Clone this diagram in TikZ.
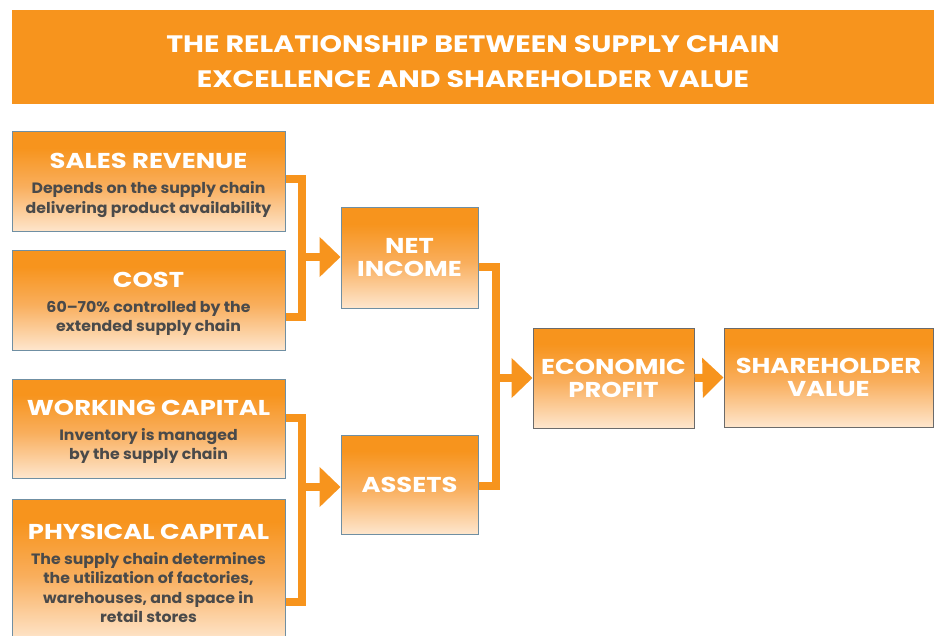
\documentclass[tikz,border=0pt]{standalone}
\usepackage{fontspec}
\setmainfont{Poppins}
\newfontfamily\hdfont{Poppins}[FakeStretch=1.2]
\newfontfamily\sbfont{Poppins}[FakeStretch=1.05]
\usetikzlibrary{arrows.meta}
\definecolor{org}{HTML}{F7941D}
\definecolor{peach}{HTML}{FEE6CD}
\definecolor{midorg}{HTML}{F9AE5C}
\definecolor{bordblue}{HTML}{6F8FA3}
\definecolor{bordgray}{HTML}{6B6B6B}
\definecolor{subgray}{HTML}{4A4A4A}
\pgfdeclareverticalshading{boxshade}{100bp}{color(0bp)=(peach); color(25bp)=(peach); color(48bp)=(midorg); color(67bp)=(org); color(100bp)=(org)}
\tikzset{
  base/.style={draw=bordblue, line width=1pt, shading=boxshade, align=center, inner sep=0pt},
  box/.style={base, text=subgray,
     font=\sbfont\fontsize{15}{19.5}\selectfont\bfseries},
  mbox/.style={base, text=white, font=\hdfont\fontsize{21.5}{23}\selectfont\bfseries},
  graybox/.style={mbox, draw=bordgray},
  conn/.style={draw=org, line width=8pt, line join=miter},
  arr/.style={conn, -{Triangle[width=39pt,length=21pt]}},
}
\newcommand{\hdt}{\hdfont\fontsize{21.5}{23}\selectfont\bfseries\color{white}\rule{0pt}{22pt}}
\begin{document}
\begin{tikzpicture}[x=1pt,y=-1pt]
\useasboundingbox (0,0) rectangle (934,636);
\clip (0,0) rectangle (934,636);
\node[fill=org, minimum width=922pt, minimum height=94pt, inner sep=0pt] (band) at (473,57) {};
\node[align=center, text=white, inner sep=0pt, font=\hdfont\fontsize{23.8}{34.5}\selectfont\bfseries] (title) at (473,61.5)
  {THE RELATIONSHIP BETWEEN SUPPLY CHAIN\\EXCELLENCE AND SHAREHOLDER VALUE};
% left boxes
\node[box, minimum width=273pt, minimum height=100pt] (sr) at (148.5,182)
  {{\hdt SALES REVENUE}\\[5.5pt]Depends on the supply chain\\delivering product availability};
\node[box, minimum width=273pt, minimum height=99pt] (cost) at (148.5,300.5)
  {{\hdt COST}\\[5.5pt]60–70\% controlled by the\\extended supply chain};
\node[box, minimum width=273pt, minimum height=99pt] (wc) at (148.5,428.5)
  {{\hdt WORKING CAPITAL}\\[5.5pt]Inventory is managed\\by the supply chain};
\node[box, minimum width=273pt, minimum height=142pt] (pc) at (148.5,570)
  {{\hdt PHYSICAL CAPITAL}\\[5.5pt]The supply chain determines\\the utilization of factories,\\warehouses, and space in\\retail stores};
% middle boxes
\node[mbox, minimum width=137pt, minimum height=100pt] (ni) at (409.5,258) {NET\\INCOME};
\node[mbox, minimum width=137pt, minimum height=99pt] (as) at (409.5,484.5) {ASSETS};
\node[graybox, minimum width=161pt, minimum height=100pt] (ep) at (613.5,378) {ECONOMIC\\PROFIT};
\node[graybox, minimum width=209pt, minimum height=99pt] (sv) at (828.5,377.5) {SHAREHOLDER\\VALUE};
% junctions
\coordinate (j1) at (302,257);
\coordinate (j2) at (302,487);
\coordinate (j3) at (496,378);
% connectors
\draw[conn] (sr.east |- 0,179) -| (j1) |- (cost.east |- 0,317);
\draw[arr] (j1) -- (ni.west |- j1);
\draw[conn] (wc.east |- 0,418) -| (j2) |- (pc.east |- 0,602);
\draw[arr] (j2) -- (as.west |- j2);
\draw[conn] (ni.east |- 0,267) -| (j3) |- (as.east |- 0,486);
\draw[arr] (j3) -- (ep.west |- j3);
\draw[arr] (ep.east) -- (sv.west);
\end{tikzpicture}
\end{document}
